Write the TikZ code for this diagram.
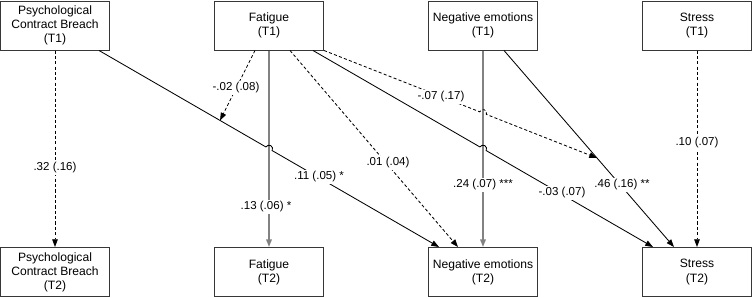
\documentclass[tikz,border=0pt]{standalone}
\usepackage{fontspec}
\setmainfont{Liberation Sans}
\usetikzlibrary{arrows.meta,calc}
\definecolor{stabGray}{RGB}{130,130,130}
\definecolor{boxLine}{RGB}{55,55,55}

\tikzset{
  varbox/.style={draw=boxLine, line width=0.7pt, minimum width=2.725cm, minimum height=1.225cm,
    inner sep=0pt, align=center, font=\fontsize{8.6}{10}\selectfont},
  effect/.style={line width=0.6pt, -{Triangle[length=5.5pt,width=4pt]}},
  nsig/.style={effect, dash pattern=on 2.2pt off 1.6pt},
  stab/.style={effect, draw=stabGray, line width=1.1pt},
  coef/.style={fill=white, inner sep=1.5pt, font=\fontsize{8.2}{9.8}\selectfont}
}

\begin{document}
\begin{tikzpicture}[x=0.025cm, y=0.025cm]

%
\useasboundingbox (0,0) rectangle (752,-297);

%
\node[varbox] (pcbA) at (55,-25.5) {Psychological\\Contract Breach\\(T1)};
\node[varbox] (fatA) at (269,-25.5) {Fatigue\\(T1)};
\node[varbox] (negA) at (483,-25.5) {Negative emotions\\(T1)};
\node[varbox] (strA) at (697,-25.5) {Stress\\(T1)};

%
\node[varbox] (pcbB) at (55,-272) {Psychological\\Contract Breach\\(T2)};
\node[varbox] (fatB) at (269,-272) {Fatigue\\(T2)};
\node[varbox] (negB) at (483,-272) {Negative emotions\\(T2)};
\node[varbox] (strB) at (697,-272) {Stress\\(T2)};

%
\coordinate (pcbOut) at ($(pcbA.south)+(44,0)$);
\coordinate (fatOut1) at ($(fatA.south)+(-14,0)$);
\coordinate (fatOut2) at ($(fatA.south)+(21,0)$);
\coordinate (fatOut3) at ($(fatA.south)+(44,0)$);
\coordinate (negOut) at ($(negA.south)+(21,0)$);
\coordinate (negIn1) at ($(negB.north)+(-44,0)$);
\coordinate (negIn2) at ($(negB.north)+(-25,0)$);
\coordinate (strIn1) at ($(strB.north)+(-44,0)$);
\coordinate (strIn2) at ($(strB.north)+(-23,0)$);

%
\coordinate (modA) at ($(pcbOut)!0.356!(negIn1)$);
\coordinate (modB) at ($(negOut)!0.547!(strIn2)$);

%
\coordinate (hopA) at (intersection of pcbOut--negIn1 and fatA.south--fatB.north);
\coordinate (hopB) at (intersection of fatOut3--strIn1 and negA.south--negB.north);
\coordinate (hopC) at (intersection of fatA.south east--modB and negA.south--negB.north);

%
\draw[nsig] (pcbA) -- (pcbB);
\draw[nsig] (strA) -- (strB);
\draw[stab] (fatA) -- (fatB);
\draw[stab] (negA) -- (negB);

%
\draw[effect] (pcbOut) -- ($(hopA)!0.09cm!(pcbOut)$)
  arc[start angle=150, end angle=-30, radius=0.09cm] -- (negIn1);
\draw[effect] (fatOut3) -- ($(hopB)!0.09cm!(fatOut3)$)
  arc[start angle=150, end angle=-30, radius=0.09cm] -- (strIn1);
\draw[effect] (negOut) -- (strIn2);

%
\draw[nsig] (fatOut1) -- (modA);
\draw[nsig] (fatOut2) -- (negIn2);
\draw[nsig] (fatA.south east) -- ($(hopC)!0.09cm!(fatA.south east)$)
  arc[start angle=158.5, end angle=-21.5, radius=0.09cm] -- (modB);

%
\node[coef] (cPcb) at (55,-168) {.32 (.16)};
\node[coef] (cFat) at (266,-207) {.13 (.06) *};
\node[coef] (cNeg) at (483,-185) {.24 (.07) ***};
\node[coef] (cStr) at (697,-143) {.10 (.07)};
\node[coef] (cPcbNeg) at (319,-177) {.11 (.05) *};
\node[coef] (cModA) at (236,-88) {-.02 (.08)};
\node[coef] (cFatNeg) at (388,-163) {.01 (.04)};
\node[coef] (cModB) at (441,-97) {-.07 (.17)};
\node[coef] (cFatStr) at (562,-193) {-.03 (.07)};
\node[coef] (cNegStr) at (622,-185) {.46 (.16) **};

\end{tikzpicture}
\end{document}
